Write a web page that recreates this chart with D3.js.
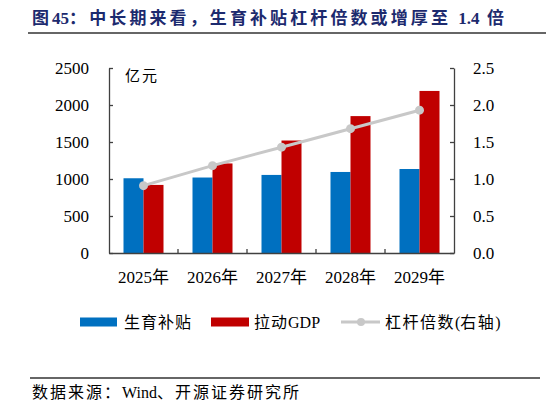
<!DOCTYPE html>
<html>
<head>
<meta charset="utf-8">
<script src="https://cdn.jsdelivr.net/npm/d3@7"></script>
<style>
body { margin:0; background:#fff; }
text { font-family: "Liberation Serif", "Noto Sans CJK SC", serif; white-space: pre; }
</style>
</head>
<body>
<script>
var years = ['2025年','2026年','2027年','2028年','2029年'];
var subsidy = [1010, 1020, 1055, 1095, 1135];
var gdp = [920, 1210, 1520, 1850, 2190];
var leverage = [0.91, 1.18, 1.43, 1.68, 1.93];
var leftTicks = [0, 500, 1000, 1500, 2000, 2500];
var rightTicks = [0, 0.5, 1, 1.5, 2, 2.5];

var svg = d3.select('body').append('svg').attr('width',546).attr('height',408);

// spaced CJK, unspaced latin; spaces get the CJK spacing too
function spaced(sel, str, ls) {
  var runs = str.match(/[\u3000-\u9fff\uff00-\uffef ]+|[^\u3000-\u9fff\uff00-\uffef ]+/g);
  runs.forEach(function(r) {
    var cjk = /[\u3000-\u9fff\uff00-\uffef ]/.test(r);
    sel.append('tspan').attr('letter-spacing', cjk ? ls : 0).text(r);
  });
  return sel;
}

// title
spaced(svg.append('text')
   .attr('x',32).attr('y',24)
   .attr('fill','#1c2a6e')
   .attr('font-size',17).attr('font-weight','bold'),
   '图45：中长期来看，生育补贴杠杆倍数或增厚至 1.4 倍', 3.1);
svg.append('line').attr('x1',28).attr('x2',546).attr('y1',33).attr('y2',33)
   .attr('stroke','#333').attr('stroke-width',1.5);

var x = d3.scaleBand().domain(years).range([109,454]);
var y = d3.scaleLinear().domain([0,2500]).range([253,68]);
var y2 = d3.scaleLinear().domain([0,2.5]).range([253,68]);
var bw = 20;

// bars
svg.selectAll('rect.sub')
   .data(subsidy).enter().append('rect')
   .attr('class','sub')
   .attr('x',(d,i) => x(years[i]) + x.bandwidth()/2 - bw)
   .attr('y', d => y(d))
   .attr('width',bw)
   .attr('height', d => y(0) - y(d))
   .attr('fill','#0070c0');

svg.selectAll('rect.gdp')
   .data(gdp).enter().append('rect')
   .attr('class','gdp')
   .attr('x',(d,i) => x(years[i]) + x.bandwidth()/2)
   .attr('y', d => y(d))
   .attr('width',bw)
   .attr('height', d => y(0) - y(d))
   .attr('fill','#c00000');

// leverage line
var line = d3.line()
   .x((d,i) => x(years[i]) + x.bandwidth()/2)
   .y(d => y2(d));
svg.append('path').datum(leverage)
   .attr('d',line).attr('fill','none')
   .attr('stroke','#c8c8c8').attr('stroke-width',3);
svg.selectAll('circle.lev')
   .data(leverage).enter().append('circle')
   .attr('class','lev')
   .attr('cx',(d,i) => x(years[i]) + x.bandwidth()/2)
   .attr('cy', d => y2(d))
   .attr('r',4.5)
   .attr('fill','#c8c8c8');

// axes
var axisColor = '#404040';
var gl = svg.append('g').attr('transform','translate(109,0)')
   .call(d3.axisLeft(y).tickValues(leftTicks).tickSize(-4).tickSizeOuter(0).tickPadding(20)
         .tickFormat(d3.format('d')));
var gr = svg.append('g').attr('transform','translate(454,0)')
   .call(d3.axisRight(y2).tickValues(rightTicks).tickSize(-4).tickSizeOuter(0).tickPadding(19)
         .tickFormat(d3.format('.1f')));
var gb = svg.append('g').attr('transform','translate(0,253)')
   .call(d3.axisBottom(x).tickSize(0).tickPadding(18));

[gl,gr,gb].forEach(function(g) {
  g.select('.domain').attr('stroke',axisColor).attr('stroke-width',1.3);
  g.selectAll('.tick line').attr('stroke',axisColor).attr('stroke-width',1.3);
  g.selectAll('text').attr('font-size',17).attr('fill','#000')
   .attr('font-family','"Liberation Serif", "Noto Sans CJK SC", serif');
});

// category boundary ticks
svg.selectAll('line.bnd')
   .data(years.slice(1)).enter().append('line')
   .attr('class','bnd')
   .attr('x1', d => x(d)).attr('x2', d => x(d))
   .attr('y1',253).attr('y2',249)
   .attr('stroke',axisColor).attr('stroke-width',1.3);

svg.append('text').attr('x',125).attr('y',81)
   .attr('font-size',15).attr('letter-spacing',2)
   .text('亿元');

// legend
var lg = svg.append('g').attr('transform','translate(0,322)');
lg.append('rect').attr('x',80).attr('y',-4.5).attr('width',37).attr('height',9).attr('fill','#0070c0');
spaced(lg.append('text').attr('x',124).attr('y',6).attr('font-size',16), '生育补贴', 1);
lg.append('rect').attr('x',211).attr('y',-4.5).attr('width',38).attr('height',9).attr('fill','#c00000');
spaced(lg.append('text').attr('x',254).attr('y',6).attr('font-size',16), '拉动GDP', 1);
lg.append('line').attr('x1',341).attr('x2',380).attr('y1',0).attr('y2',0)
   .attr('stroke','#c8c8c8').attr('stroke-width',3);
lg.append('circle').attr('cx',361).attr('cy',0).attr('r',4).attr('fill','#c8c8c8');
spaced(lg.append('text').attr('x',385).attr('y',6).attr('font-size',16), '杠杆倍数(右轴)', 1.5);

// source
svg.append('line').attr('x1',30).attr('x2',540).attr('y1',378).attr('y2',378)
   .attr('stroke','#333').attr('stroke-width',1.3);
spaced(svg.append('text').attr('x',32).attr('y',398).attr('font-size',16),
   '数据来源：Wind、开源证券研究所', 2);
</script>
</body>
</html>
